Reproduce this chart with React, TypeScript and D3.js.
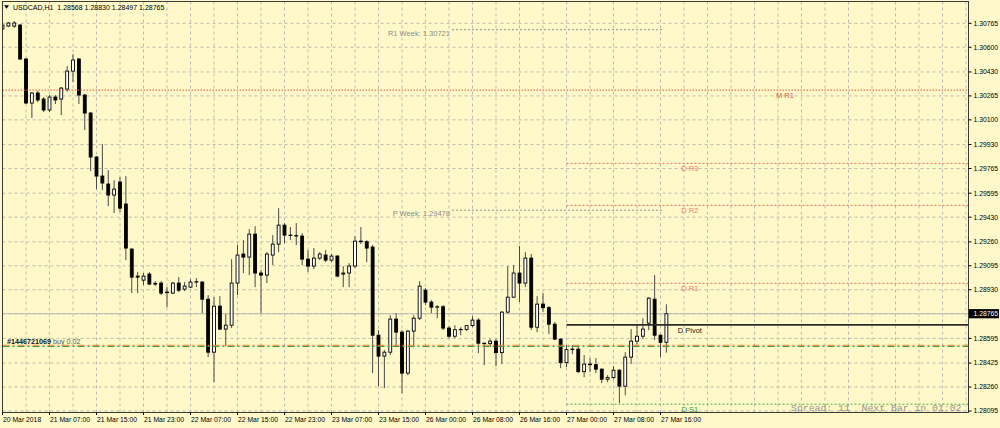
import React, { useEffect } from "react";
import * as d3 from "d3";

const W = 1000;
const H = 428;

const symbolTitle = "USDCAD,H1";
const headerOHLC = ["1.28568", "1.28830", "1.28497", "1.28765"];

const xTickLabels = [
  "20 Mar 2018", "21 Mar 07:00", "21 Mar 15:00", "21 Mar 23:00", "22 Mar 07:00",
  "22 Mar 15:00", "22 Mar 23:00", "23 Mar 07:00", "23 Mar 15:00", "26 Mar 00:00",
  "26 Mar 08:00", "26 Mar 16:00", "27 Mar 00:00", "27 Mar 08:00", "27 Mar 16:00",
];

const yTickLabels = [
  "1.30765", "1.30600", "1.30430", "1.30265", "1.30100", "1.29930", "1.29765", "1.29595",
  "1.29430", "1.29260", "1.29095", "1.28930", "1.28765", "1.28595", "1.28425", "1.28260", "1.28095",
];

const opens = [
  1.30726, 1.30746, 1.30746, 1.30753, 1.30519, 1.30216, 1.30285, 1.30243, 1.30168, 1.30257,
  1.30243, 1.30312, 1.30436, 1.30519, 1.30271, 1.30147, 1.29844, 1.29713, 1.29658, 1.29582,
  1.29672, 1.29520, 1.29210, 1.29024, 1.28996, 1.29038, 1.28969, 1.28976, 1.28914, 1.28907,
  1.28976, 1.28934, 1.28948, 1.28983, 1.28983, 1.28865, 1.28500, 1.28817, 1.28659, 1.28686,
  1.28976, 1.29176, 1.29155, 1.29313, 1.29045, 1.29031, 1.29169, 1.29244, 1.29375, 1.29306,
  1.29303, 1.29300, 1.29141, 1.29093, 1.29148, 1.29169, 1.29134, 1.29162, 1.29038, 1.29045,
  1.29093, 1.29265, 1.29261, 1.29224, 1.28617, 1.28473, 1.28500, 1.28728, 1.28638, 1.28356,
  1.28645, 1.28734, 1.28927, 1.28845, 1.28810, 1.28813, 1.28666, 1.28610, 1.28655, 1.28657,
  1.28683, 1.28721, 1.28562, 1.28559, 1.28576, 1.28497, 1.28776, 1.28879, 1.29045, 1.28976,
  1.29148, 1.28672, 1.28831, 1.28807, 1.28693, 1.28590, 1.28428, 1.28518, 1.28521, 1.28366,
  1.28418, 1.28414, 1.28383, 1.28314, 1.28325, 1.28376, 1.28266, 1.28466, 1.28576, 1.28610,
  1.28700, 1.28865, 1.28617, 1.28568,
];
const highs = [
  1.30760, 1.30774, 1.30781, 1.30760, 1.30526, 1.30292, 1.30299, 1.30257, 1.30271, 1.30271,
  1.30326, 1.30471, 1.30553, 1.30526, 1.30278, 1.30154, 1.29851, 1.29933, 1.29754, 1.29685,
  1.29706, 1.29713, 1.29217, 1.29052, 1.29045, 1.29052, 1.28989, 1.28989, 1.28948, 1.28983,
  1.29017, 1.28983, 1.29003, 1.29010, 1.28989, 1.28893, 1.28879, 1.28886, 1.28762, 1.29141,
  1.29238, 1.29272, 1.29348, 1.29368, 1.29065, 1.29189, 1.29306, 1.29492, 1.29389, 1.29362,
  1.29389, 1.29320, 1.29203, 1.29217, 1.29189, 1.29203, 1.29176, 1.29169, 1.29093, 1.29113,
  1.29299, 1.29362, 1.29272, 1.29238, 1.28652, 1.28514, 1.28755, 1.28769, 1.28652, 1.28652,
  1.28755, 1.28989, 1.28941, 1.28859, 1.28824, 1.28824, 1.28679, 1.28686, 1.28672, 1.28686,
  1.28748, 1.28734, 1.28566, 1.28590, 1.28590, 1.28783, 1.29093, 1.29100, 1.29231, 1.29189,
  1.29176, 1.28886, 1.28907, 1.28817, 1.28707, 1.28596, 1.28549, 1.28549, 1.28549, 1.28480,
  1.28459, 1.28459, 1.28390, 1.28342, 1.28404, 1.28383, 1.28500, 1.28659, 1.28693, 1.28734,
  1.28879, 1.29031, 1.28624, 1.28830,
];
const lows = [
  1.30698, 1.30740, 1.30733, 1.30512, 1.30209, 1.30113, 1.30223, 1.30154, 1.30154, 1.30209,
  1.30133, 1.30292, 1.30361, 1.30209, 1.30030, 1.29747, 1.29623, 1.29616, 1.29506, 1.29458,
  1.29465, 1.29134, 1.28907, 1.28907, 1.28962, 1.28962, 1.28955, 1.28893, 1.28810, 1.28900,
  1.28914, 1.28920, 1.28941, 1.28948, 1.28769, 1.28466, 1.28294, 1.28652, 1.28542, 1.28666,
  1.28893, 1.29045, 1.29031, 1.28948, 1.28769, 1.28976, 1.29100, 1.29189, 1.29251, 1.29272,
  1.29238, 1.29100, 1.29052, 1.29072, 1.29134, 1.29120, 1.29120, 1.29017, 1.28948, 1.28948,
  1.29079, 1.29244, 1.29120, 1.28356, 1.28266, 1.28252, 1.28480, 1.28535, 1.28218, 1.28342,
  1.28535, 1.28721, 1.28824, 1.28769, 1.28734, 1.28652, 1.28596, 1.28596, 1.28617, 1.28645,
  1.28672, 1.28493, 1.28411, 1.28535, 1.28404, 1.28418, 1.28769, 1.28872, 1.28845, 1.28948,
  1.28652, 1.28638, 1.28776, 1.28624, 1.28583, 1.28390, 1.28397, 1.28486, 1.28356, 1.28328,
  1.28363, 1.28356, 1.28287, 1.28294, 1.28314, 1.28149, 1.28204, 1.28418, 1.28554, 1.28590,
  1.28652, 1.28583, 1.28466, 1.28497,
];
const closes = [
  1.30753, 1.30767, 1.30767, 1.30519, 1.30216, 1.30285, 1.30237, 1.30168, 1.30257, 1.30237,
  1.30319, 1.30436, 1.30512, 1.30271, 1.30147, 1.29844, 1.29713, 1.29665, 1.29582, 1.29623,
  1.29492, 1.29217, 1.29017, 1.29017, 1.29024, 1.28969, 1.28974, 1.28907, 1.28910, 1.28976,
  1.28927, 1.28955, 1.28983, 1.28986, 1.28865, 1.28500, 1.28817, 1.28659, 1.28686, 1.28976,
  1.29169, 1.29155, 1.29313, 1.29045, 1.29031, 1.29176, 1.29244, 1.29375, 1.29306, 1.29303,
  1.29300, 1.29141, 1.29093, 1.29148, 1.29176, 1.29134, 1.29162, 1.29024, 1.29045, 1.29093,
  1.29265, 1.29261, 1.29217, 1.28617, 1.28473, 1.28500, 1.28728, 1.28638, 1.28356, 1.28645,
  1.28734, 1.28955, 1.28845, 1.28810, 1.28813, 1.28666, 1.28610, 1.28655, 1.28657, 1.28683,
  1.28721, 1.28562, 1.28559, 1.28576, 1.28497, 1.28776, 1.28879, 1.29045, 1.28976, 1.29148,
  1.28672, 1.28831, 1.28807, 1.28693, 1.28590, 1.28428, 1.28518, 1.28521, 1.28366, 1.28418,
  1.28414, 1.28383, 1.28314, 1.28325, 1.28376, 1.28266, 1.28466, 1.28576, 1.28610, 1.28659,
  1.28872, 1.28617, 1.28568, 1.28765,
];

// Monthly level across the whole chart
const monthLevelNames = ["M R1"];
const monthLevelPrices = [1.30305];

// Weekly levels (text + price), drawn over bar range
const weekLevelNames = ["R1 Week: 1.30721", "P Week: 1.29478"];
const weekLevelPrices = [1.30721, 1.29478];
const weekLevelStartBar = 76.5;
const weekLevelEndBar = 112.4;

// Daily levels starting at 27 Mar 00:00 bar
const dayLevelNames = ["D R3", "D R2", "D R1", "D Pivot", "D S1"];
const dayLevelPrices = [1.298, 1.29511, 1.28974, 1.28688, 1.28142];
const dayLevelStartBar = 96;

const orderTicket = "#1446721069";
const orderSide = "buy 0.02";
const orderPrice = 1.28542;

const spreadText = "Spread: 11  Next Bar in 01:02";

export default function App() {
  useEffect(() => {
    document.body.style.margin = "0";
  }, []);

  const left = 2.5;
  const right = 968.5;
  const top = 1.5;
  const bottom = 412.5;
  const barStep = 5.875;

  const x = d3.scaleLinear().domain([0, 1]).range([left, left + barStep]);
  const y = d3.scaleLinear().domain([1.28095, 1.30765]).range([411, 23.3]);

  const nBars = opens.length;
  const gridBars = d3.range(4, Math.floor((right - left) / barStep) + 1, 4);
  const lastClose = closes[nBars - 1];

  const font = "'Liberation Sans', Arial, sans-serif";
  const bg = "#fff9c9";
  const gridColor = "#bdbbb0";

  const redLine = "#ee6a58";
  const redText = "#f07a6a";
  const greenLine = "#3fae45";

  return (
    <svg
      width={W}
      height={H}
      viewBox={`0 0 ${W} ${H}`}
      style={{ position: "absolute", left: 0, top: 0, display: "block" }}
    >
      <defs>
        <clipPath id="plot">
          <rect x={left} y={top} width={right - left} height={bottom - top} />
        </clipPath>
      </defs>
      <rect x={0} y={0} width={W} height={H} fill={bg} />

      {/* grid */}
      <g stroke={gridColor} strokeWidth={1} strokeDasharray="3,3">
        {gridBars.map((b) => (
          <line key={"gv" + b} x1={x(b)} x2={x(b)} y1={top} y2={bottom} />
        ))}
        {yTickLabels.map((t) => (
          <line key={"gh" + t} x1={left} x2={right} y1={y(+t)} y2={y(+t)} />
        ))}
      </g>

      <g clipPath="url(#plot)">
        {/* bid line */}
        <line x1={left} x2={right} y1={y(lastClose)} y2={y(lastClose)} stroke="#b9b9b4" strokeWidth={1} />

        {/* candles */}
        {opens.map((o, i) => {
          const c = closes[i];
          const cx = x(i);
          const bull = c >= o;
          const yTop = y(Math.max(o, c));
          const yBot = y(Math.min(o, c));
          return (
            <g key={"c" + i}>
              <line x1={cx} x2={cx} y1={y(highs[i])} y2={y(lows[i])} stroke="#4a4a4a" strokeWidth={1} />
              <rect
                x={cx - 1.45}
                y={yTop}
                width={2.9}
                height={Math.max(yBot - yTop, 0.05)}
                fill={bull ? "#ffffff" : "#000000"}
                stroke="#000"
                strokeWidth={0.9}
              />
            </g>
          );
        })}

        {/* monthly level */}
        {monthLevelPrices.map((p, k) => (
          <g key={"m" + k}>
            <line x1={left} x2={right} y1={y(p)} y2={y(p)} stroke="#e2503f" strokeWidth={1} strokeDasharray="1.5,1.5" />
            <text x={785} y={y(p) + 7.6} fontFamily={font} fontSize={7.5} fill="#d85a4c" textAnchor="middle">
              {monthLevelNames[k]}
            </text>
          </g>
        ))}

        {/* weekly levels */}
        {weekLevelPrices.map((p, k) => (
          <g key={"w" + k}>
            <line
              x1={x(weekLevelStartBar)}
              x2={x(weekLevelEndBar)}
              y1={y(p)}
              y2={y(p)}
              stroke="#8e8e8e"
              strokeWidth={1}
              strokeDasharray="2,2"
            />
            <text
              x={x(weekLevelStartBar) - 2}
              y={y(p) + 6.2}
              fontFamily={font}
              fontSize={7.5}
              fill="#8d8d8d"
              textAnchor="end"
            >
              {weekLevelNames[k]}
            </text>
          </g>
        ))}

        {/* daily levels */}
        {dayLevelPrices.map((p, k) => {
          const name = dayLevelNames[k];
          const isPivot = name === "D Pivot";
          const isSupport = name.startsWith("D S");
          const lineColor = isPivot ? "#2b2b2b" : isSupport ? greenLine : redLine;
          const textColor = isPivot ? "#1a1a1a" : isSupport ? "#2f9f35" : redText;
          return (
            <g key={"d" + k}>
              <line
                x1={x(dayLevelStartBar)}
                x2={right}
                y1={y(p)}
                y2={y(p)}
                stroke={lineColor}
                strokeWidth={isPivot ? 1.6 : 1}
                strokeDasharray={isPivot ? undefined : "2,2"}
              />
              <text
                x={x(117)}
                y={y(p) + 7.8}
                fontFamily={font}
                fontSize={7.5}
                fill={textColor}
                textAnchor="middle"
              >
                {name}
              </text>
            </g>
          );
        })}

        {/* order line */}
        <line x1={left} x2={right} y1={y(orderPrice) - 0.9} y2={y(orderPrice) - 0.9} stroke="#f07a2c" strokeWidth={1.1} strokeDasharray="7,3,2,3" />
        <line x1={left} x2={right} y1={y(orderPrice) + 0.4} y2={y(orderPrice) + 0.4} stroke="#3c9e3c" strokeWidth={1.1} strokeDasharray="7,3,2,3" />
        <text x={7} y={y(orderPrice) - 2.3} fontFamily={font} fontSize={7.2} style={{ whiteSpace: "pre" }}>
          <tspan fill="#111" fontWeight="bold">{orderTicket}</tspan>
          <tspan fill="#5a5a5a">{" " + orderSide}</tspan>
        </text>

        {/* spread info */}
        <text
          x={791}
          y={410.6}
          fontFamily="'Liberation Mono', 'Courier New', monospace"
          fontSize={9.8}
          fill="#969690"
          style={{ whiteSpace: "pre" }}
        >
          {spreadText}
        </text>
      </g>

      {/* frame */}
      <rect x={left} y={top} width={right - left} height={bottom - top} fill="none" stroke="#3a3a3a" strokeWidth={1} />

      {/* header */}
      <path d="M4,5.2 L9,5.2 L6.5,8.8 Z" fill="#000" />
      <text x={13} y={9.8} fontFamily={font} fontSize={7} fill="#000" style={{ whiteSpace: "pre" }}>
        {symbolTitle + "  " + headerOHLC.join(" ")}
      </text>

      {/* x axis */}
      <g fontFamily={font} fontSize={6.8} fill="#000">
        {xTickLabels.map((t, k) => {
          const xi = x(k * 8);
          return (
            <g key={"xt" + k}>
              <line x1={xi} x2={xi} y1={bottom} y2={bottom + 2.5} stroke="#000" strokeWidth={1} />
              <text x={xi + 0.5} y={421.6}>{t}</text>
            </g>
          );
        })}
      </g>

      {/* y axis */}
      <g fontFamily={font} fontSize={6.8} fill="#000">
        {yTickLabels.map((t) => {
          const yy = y(+t);
          return (
            <g key={"yt" + t}>
              <line x1={right} x2={right + 3} y1={yy} y2={yy} stroke="#000" strokeWidth={1} />
              <text x={973.5} y={yy + 2.4}>{t}</text>
            </g>
          );
        })}
      </g>

      {/* current price tag */}
      <rect x={969} y={y(lastClose) - 4.6} width={30} height={9.2} fill="#000" />
      <text x={973.5} y={y(lastClose) + 2.4} fontFamily={font} fontSize={6.8} fill="#fff">
        {lastClose.toFixed(5)}
      </text>
    </svg>
  );
}
